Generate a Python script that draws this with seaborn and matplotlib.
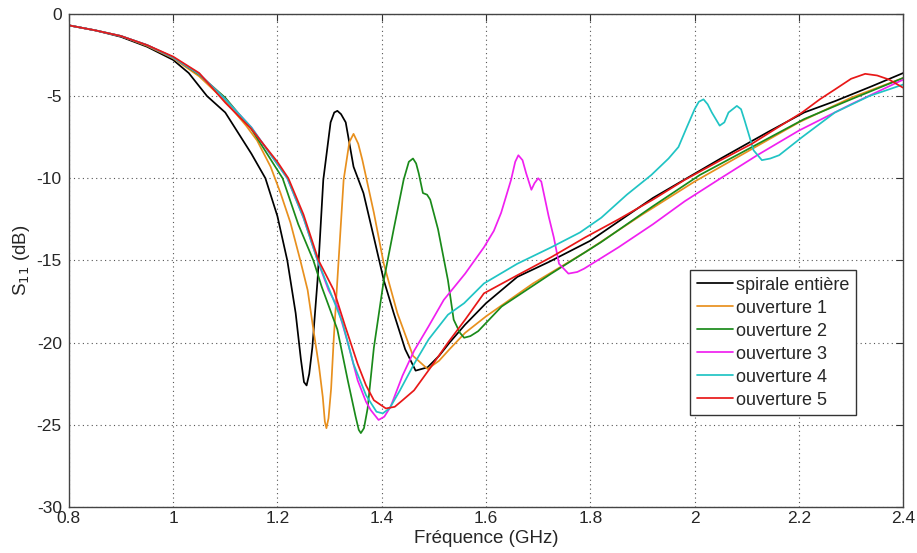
import numpy as np
import pandas as pd
import matplotlib
matplotlib.use('Agg')
import matplotlib.pyplot as plt
import seaborn as sns

# S11 curves (GHz, dB)
x_spirale = [0.80, 0.85, 0.90, 0.95, 1.00, 1.03, 1.065, 1.10, 1.13, 1.15, 1.177, 1.20, 1.219, 1.235,
             1.245, 1.251, 1.256, 1.261, 1.267, 1.277, 1.288, 1.302, 1.309, 1.315, 1.322, 1.331, 1.346,
             1.365, 1.385, 1.404, 1.423, 1.445, 1.465, 1.488, 1.51, 1.53, 1.56, 1.60, 1.66, 1.72, 1.80,
             1.92, 2.05, 2.14, 2.21, 2.27, 2.34, 2.40]
y_spirale = [-0.7, -1.0, -1.4, -2.0, -2.8, -3.6, -5.0, -6.0, -7.5, -8.5, -10.0, -12.3, -15.0, -18.2,
             -21.0, -22.4, -22.6, -21.9, -20.3, -16.2, -10.1, -6.6, -6.0, -5.9, -6.1, -6.6, -9.3,
             -10.9, -13.6, -16.2, -18.2, -20.4, -21.7, -21.5, -20.8, -20.0, -18.9, -17.6, -16.0, -15.1,
             -13.8, -11.2, -8.8, -7.2, -6.0, -5.3, -4.4, -3.6]

x_ouv1 = [0.80, 0.85, 0.90, 0.95, 1.00, 1.05, 1.10, 1.14, 1.161, 1.187, 1.206, 1.225, 1.244, 1.258,
          1.269, 1.28, 1.287, 1.291, 1.294, 1.298, 1.303, 1.308, 1.315, 1.327, 1.338, 1.346, 1.355,
          1.363, 1.385, 1.404, 1.43, 1.46, 1.488, 1.51, 1.53, 1.56, 1.60, 1.69, 1.79, 1.90, 2.00,
          2.10, 2.20, 2.30, 2.40]
y_ouv1 = [-0.7, -1.0, -1.35, -1.95, -2.7, -3.8, -5.3, -6.8, -7.7, -9.3, -10.9, -12.7, -15.0, -16.8,
          -19.2, -21.5, -23.3, -24.8, -25.2, -24.6, -22.8, -19.8, -16.2, -10.1, -7.8, -7.3, -7.9,
          -8.9, -12.1, -15.2, -18.2, -20.8, -21.6, -21.1, -20.4, -19.4, -18.4, -16.4, -14.5, -12.2,
          -10.2, -8.4, -6.6, -5.1, -3.9]

x_ouv2 = [0.80, 0.85, 0.90, 0.95, 1.00, 1.05, 1.10, 1.15, 1.21, 1.24, 1.269, 1.285, 1.315, 1.335,
          1.35, 1.356, 1.36, 1.366, 1.373, 1.385, 1.404, 1.423, 1.442, 1.452, 1.46, 1.466, 1.471,
          1.479, 1.487, 1.493, 1.508, 1.527, 1.538, 1.55, 1.558, 1.57, 1.585, 1.63, 1.725, 1.82,
          1.92, 2.01, 2.11, 2.21, 2.30, 2.40]
y_ouv2 = [-0.7, -1.0, -1.35, -1.9, -2.65, -3.7, -5.1, -7.0, -10.0, -12.8, -15.0, -16.6, -19.2, -22.3,
          -24.5, -25.3, -25.5, -25.2, -24.0, -20.3, -16.2, -13.1, -10.1, -9.0, -8.8, -9.1, -9.7,
          -10.9, -11.0, -11.3, -13.1, -16.2, -18.6, -19.4, -19.7, -19.6, -19.3, -17.8, -15.8, -13.9,
          -11.7, -9.8, -8.1, -6.4, -5.2, -3.9]

x_ouv3 = [0.80, 0.85, 0.90, 0.95, 1.00, 1.05, 1.10, 1.15, 1.219, 1.25, 1.277, 1.298, 1.315, 1.335,
          1.354, 1.37, 1.379, 1.394, 1.405, 1.417, 1.44, 1.462, 1.49, 1.519, 1.56, 1.596, 1.615,
          1.629, 1.648, 1.656, 1.662, 1.67, 1.677, 1.687, 1.693, 1.70, 1.706, 1.712, 1.72, 1.73,
          1.74, 1.758, 1.775, 1.788, 1.854, 1.92, 1.981, 2.05, 2.12, 2.20, 2.30, 2.40]
y_ouv3 = [-0.7, -1.0, -1.35, -1.9, -2.65, -3.65, -5.2, -6.9, -10.0, -12.4, -15.0, -16.8, -17.8, -20.0,
          -22.3, -23.6, -24.1, -24.7, -24.5, -23.9, -22.0, -20.5, -19.0, -17.4, -15.8, -14.2, -13.2,
          -12.1, -10.1, -9.0, -8.6, -8.9, -9.7, -10.7, -10.3, -10.0, -10.2, -11.1, -12.3, -13.6,
          -15.2, -15.8, -15.7, -15.5, -14.2, -12.8, -11.4, -10.0, -8.6, -7.1, -5.5, -4.0]

x_ouv4 = [0.80, 0.85, 0.90, 0.95, 1.00, 1.05, 1.10, 1.15, 1.219, 1.25, 1.277, 1.30, 1.325, 1.346,
          1.37, 1.39, 1.402, 1.415, 1.435, 1.462, 1.49, 1.527, 1.558, 1.596, 1.66, 1.725, 1.78,
          1.821, 1.87, 1.917, 1.95, 1.969, 1.985, 2.00, 2.008, 2.017, 2.025, 2.033, 2.048, 2.057,
          2.065, 2.081, 2.089, 2.096, 2.113, 2.129, 2.145, 2.162, 2.206, 2.269, 2.335, 2.40]
y_ouv4 = [-0.7, -1.0, -1.35, -1.9, -2.65, -3.65, -5.2, -6.9, -10.0, -12.4, -15.0, -16.8, -18.8, -21.3,
          -23.2, -24.2, -24.3, -24.0, -22.9, -21.3, -19.8, -18.3, -17.6, -16.4, -15.2, -14.2, -13.3,
          -12.4, -11.0, -9.8, -8.8, -8.1, -6.9, -5.8, -5.35, -5.2, -5.5, -6.0, -6.8, -6.6, -6.0,
          -5.6, -5.8, -6.5, -8.3, -8.9, -8.8, -8.6, -7.5, -6.0, -5.0, -4.3]

x_ouv5 = [0.80, 0.85, 0.90, 0.95, 1.00, 1.05, 1.10, 1.15, 1.20, 1.221, 1.25, 1.279, 1.308, 1.33,
          1.354, 1.37, 1.385, 1.408, 1.425, 1.44, 1.462, 1.494, 1.527, 1.56, 1.596, 1.66, 1.725,
          1.79, 1.854, 1.92, 1.981, 2.05, 2.11, 2.16, 2.206, 2.24, 2.269, 2.30, 2.327, 2.35, 2.373, 2.40]
y_ouv5 = [-0.7, -1.0, -1.35, -1.9, -2.6, -3.6, -5.4, -7.0, -9.0, -10.0, -12.2, -15.0, -16.8, -19.0,
          -21.3, -22.6, -23.5, -24.0, -23.9, -23.5, -22.9, -21.5, -20.0, -18.6, -17.0, -15.9, -14.8,
          -13.6, -12.5, -11.3, -10.1, -8.9, -7.9, -6.9, -6.0, -5.2, -4.6, -3.95, -3.65, -3.75, -4.0, -4.5]

labels = ['spirale entière', 'ouverture 1', 'ouverture 2', 'ouverture 3', 'ouverture 4', 'ouverture 5']
colors = ['#000000', '#E8901E', '#1A8A1A', '#F020F0', '#20C4C4', '#E81818']
x_ticks = [0.8, 1, 1.2, 1.4, 1.6, 1.8, 2, 2.2, 2.4]
x_ticklabels = ['0.8', '1', '1.2', '1.4', '1.6', '1.8', '2', '2.2', '2.4']
y_ticks = [-30, -25, -20, -15, -10, -5, 0]

xs = [x_spirale, x_ouv1, x_ouv2, x_ouv3, x_ouv4, x_ouv5]
ys = [y_spirale, y_ouv1, y_ouv2, y_ouv3, y_ouv4, y_ouv5]
df = pd.concat([pd.DataFrame({'f': x, 's11': y, 'courbe': lab}) for x, y, lab in zip(xs, ys, labels)],
               ignore_index=True)

sns.set_style('white')
plt.rcParams['font.family'] = ['Liberation Sans', 'DejaVu Sans']
plt.rcParams['axes.unicode_minus'] = False

fig = plt.figure(figsize=(9.17, 5.53), dpi=100)
ax = fig.add_axes([0.075, 0.083, 0.910, 0.892])

sns.lineplot(data=df, x='f', y='s11', hue='courbe', hue_order=labels,
             palette=dict(zip(labels, colors)), linewidth=1.25, ax=ax, estimator=None, sort=False)

ax.set_xlim(0.8, 2.4)
ax.set_ylim(-30, 0)
ax.set_xticks(x_ticks)
ax.set_xticklabels(x_ticklabels)
ax.set_yticks(y_ticks)
ax.tick_params(direction='in', top=True, right=True, length=5, labelsize=12.5, pad=3, color='#333333')
ax.tick_params(axis='y', pad=5)
ax.grid(True, linestyle=(0, (1, 3)), color='#555555', linewidth=0.8)
for s in ax.spines.values():
    s.set_color('#444444')
    s.set_linewidth(1.0)

ax.set_xlabel('Fréquence (GHz)', fontsize=13.5, labelpad=3)
ax.set_ylabel('S$_{11}$ (dB)', fontsize=13.5, labelpad=3)

leg = ax.legend(loc='lower left', bbox_to_anchor=(0.745, 0.187), borderaxespad=0, fontsize=13,
                frameon=True, fancybox=False, framealpha=1, edgecolor='#333333', handlelength=2.0,
                handletextpad=0.2, labelspacing=0.33, borderpad=0.35)
leg.get_frame().set_linewidth(1.0)

fig.savefig('out.png', dpi=100)
